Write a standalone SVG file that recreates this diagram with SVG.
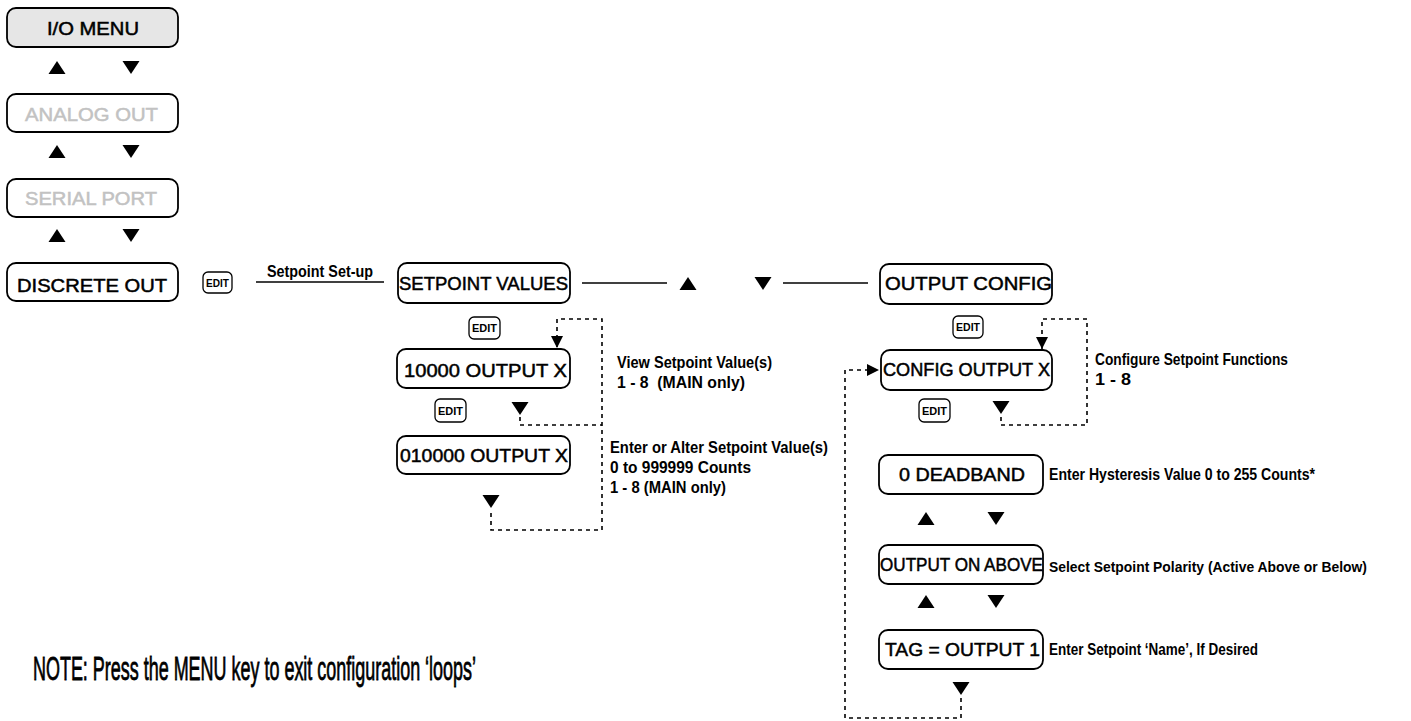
<svg xmlns="http://www.w3.org/2000/svg" width="1411" height="721" viewBox="0 0 1411 721">
<style>
.box{fill:#fff;stroke:#000;stroke-width:1.8}
.key{fill:#fff;stroke:#000;stroke-width:1.3}
.bt{font-family:"Liberation Sans",Arial,sans-serif;font-size:19px;fill:#000;stroke:#000;stroke-width:0.5}
.gray{fill:#c2c2c2;stroke:#c2c2c2}
.kt{font-family:"Liberation Sans Narrow","Liberation Sans",Arial,sans-serif;font-weight:bold;font-size:11px;fill:#000}
.st{font-family:"Liberation Sans Narrow","Liberation Sans",Arial,sans-serif;font-weight:bold;font-size:17px;fill:#000}
.note{font-family:"Liberation Sans Narrow","Liberation Sans",Arial,sans-serif;font-size:34px;fill:#000;stroke:#000;stroke-width:0.8}
.solid{fill:none;stroke:#000;stroke-width:1.5}
.dash{fill:none;stroke:#000;stroke-width:1.6;stroke-dasharray:4 4}
.tri{fill:#000}
</style>
<defs>
<path id="up" d="M0,0 L8.5,13 L-8.5,13 Z"/>
<path id="dn" d="M-8.5,0 L8.5,0 L0,13 Z"/>
<marker id="ah" markerUnits="userSpaceOnUse" markerWidth="12" markerHeight="12" refX="10" refY="5" orient="auto" viewBox="0 0 10 10">
<path d="M0,0 L10,5 L0,10 Z" fill="#000"/>
</marker>
</defs>

<g id="connectors">
<path class="solid" d="M256,282 H384"/>
<path class="solid" d="M582,283 H667"/>
<path class="solid" d="M783,283 H868"/>
<path class="dash" d="M491,513 V530 H602 V319 H557 V348" marker-end="url(#ah)"/>
<path class="dash" d="M520,417 V425 H602"/>
<path class="dash" d="M1001,417 V425 H1087 V319 H1042 V349" marker-end="url(#ah)"/>
<path class="dash" d="M961,698 V718 H845 V370 H879" marker-end="url(#ah)"/>
<g class="tri">
<use href="#up" x="57" y="61"/><use href="#dn" x="131" y="61"/>
<use href="#up" x="57" y="145"/><use href="#dn" x="131" y="145"/>
<use href="#up" x="57" y="229"/><use href="#dn" x="131" y="229"/>
<use href="#up" x="688" y="277"/><use href="#dn" x="763" y="277"/>
<use href="#dn" x="520" y="402"/>
<use href="#dn" x="491" y="495"/>
<use href="#dn" x="1001" y="401"/>
<use href="#up" x="926" y="512"/><use href="#dn" x="996" y="512"/>
<use href="#up" x="926" y="595"/><use href="#dn" x="996" y="595"/>
<use href="#dn" x="961" y="682"/>
</g>
<text class="st" x="267" y="277" textLength="106" lengthAdjust="spacingAndGlyphs">Setpoint Set-up</text>
</g>

<g id="n-io"><rect x="7" y="8" width="171" height="39" rx="9" fill="#e6e6e6" stroke="#000" stroke-width="1.8"/>
<text class="bt" x="47" y="35" textLength="92" lengthAdjust="spacingAndGlyphs">I/O MENU</text></g>
<g id="n-analog"><rect class="box" x="7" y="94" width="171" height="38" rx="9"/>
<text class="bt gray" x="25" y="121" textLength="133" lengthAdjust="spacingAndGlyphs">ANALOG OUT</text></g>
<g id="n-serial"><rect class="box" x="7" y="179" width="171" height="38" rx="9"/>
<text class="bt gray" x="25" y="205" textLength="132" lengthAdjust="spacingAndGlyphs">SERIAL PORT</text></g>
<g id="n-discrete"><rect class="box" x="7" y="263" width="171" height="38" rx="9"/>
<text class="bt" x="17" y="292" textLength="150" lengthAdjust="spacingAndGlyphs">DISCRETE OUT</text></g>

<g id="k-edit1"><rect class="key" x="203" y="272" width="29" height="21" rx="5"/><text class="kt" x="206" y="287" textLength="23" lengthAdjust="spacingAndGlyphs">EDIT</text></g>

<g id="n-setpoint"><rect class="box" x="398" y="263" width="172" height="40" rx="9"/>
<text class="bt" x="399" y="290" textLength="169" lengthAdjust="spacingAndGlyphs">SETPOINT VALUES</text></g>
<g id="k-edit2"><rect class="key" x="469" y="317" width="31" height="22" rx="5"/><text class="kt" x="472" y="332" textLength="25" lengthAdjust="spacingAndGlyphs">EDIT</text></g>
<g id="n-view"><rect class="box" x="397" y="349" width="173" height="39" rx="9"/>
<text class="bt" x="404" y="377" textLength="163" lengthAdjust="spacingAndGlyphs">10000 OUTPUT X</text></g>
<g id="k-edit3"><rect class="key" x="435" y="399" width="31" height="23" rx="5"/><text class="kt" x="438" y="415" textLength="25" lengthAdjust="spacingAndGlyphs">EDIT</text></g>
<g id="n-enter"><rect class="box" x="397" y="436" width="173" height="38" rx="9"/>
<text class="bt" x="400" y="462" textLength="168" lengthAdjust="spacingAndGlyphs">010000 OUTPUT X</text></g>

<g id="t-view">
<text class="st" x="617" y="368" textLength="155" lengthAdjust="spacingAndGlyphs">View Setpoint Value(s)</text>
<text class="st" x="617" y="388" textLength="128" lengthAdjust="spacingAndGlyphs" xml:space="preserve">1 - 8  (MAIN only)</text>
</g>
<g id="t-enter">
<text class="st" x="610" y="453" textLength="218" lengthAdjust="spacingAndGlyphs">Enter or Alter Setpoint Value(s)</text>
<text class="st" x="610" y="473" textLength="141" lengthAdjust="spacingAndGlyphs">0 to 999999 Counts</text>
<text class="st" x="610" y="493" textLength="116" lengthAdjust="spacingAndGlyphs">1 - 8 (MAIN only)</text>
</g>

<g id="n-outcfg"><rect class="box" x="880" y="264" width="172" height="40" rx="9"/>
<text class="bt" x="885" y="290" textLength="167" lengthAdjust="spacingAndGlyphs">OUTPUT CONFIG</text></g>
<g id="k-edit4"><rect class="key" x="953" y="316" width="30" height="22" rx="5"/><text class="kt" x="956" y="331" textLength="24" lengthAdjust="spacingAndGlyphs">EDIT</text></g>
<g id="n-cfgout"><rect class="box" x="881" y="350" width="171" height="40" rx="9"/>
<text class="bt" x="883" y="376" textLength="167" lengthAdjust="spacingAndGlyphs">CONFIG OUTPUT X</text></g>
<g id="k-edit5"><rect class="key" x="919" y="399" width="31" height="23" rx="5"/><text class="kt" x="922" y="415" textLength="25" lengthAdjust="spacingAndGlyphs">EDIT</text></g>
<g id="t-cfg">
<text class="st" x="1095" y="365" textLength="193" lengthAdjust="spacingAndGlyphs">Configure Setpoint Functions</text>
<text class="st" x="1095" y="385" textLength="36" lengthAdjust="spacingAndGlyphs">1 - 8</text>
</g>

<g id="n-deadband"><rect class="box" x="879" y="455" width="164" height="39" rx="9"/>
<text class="bt" x="899" y="481" textLength="126" lengthAdjust="spacingAndGlyphs">0 DEADBAND</text>
<text class="st" x="1049" y="480" textLength="266" lengthAdjust="spacingAndGlyphs">Enter Hysteresis Value 0 to 255 Counts*</text></g>
<g id="n-polarity"><rect class="box" x="879" y="545" width="164" height="39" rx="9"/>
<text class="bt" x="880" y="571" textLength="163" lengthAdjust="spacingAndGlyphs">OUTPUT ON ABOVE</text>
<text class="st" x="1049" y="572" style="font-size:15px" textLength="318" lengthAdjust="spacingAndGlyphs">Select Setpoint Polarity (Active Above or Below)</text></g>
<g id="n-tag"><rect class="box" x="879" y="630" width="164" height="39" rx="9"/>
<text class="bt" x="885" y="656" textLength="155" lengthAdjust="spacingAndGlyphs">TAG = OUTPUT 1</text>
<text class="st" x="1049" y="655" textLength="209" lengthAdjust="spacingAndGlyphs">Enter Setpoint ‘Name’, If Desired</text></g>

<text class="note" x="33" y="680" textLength="443" lengthAdjust="spacingAndGlyphs">NOTE: Press the MENU key to exit configuration ‘loops’</text>
</svg>
